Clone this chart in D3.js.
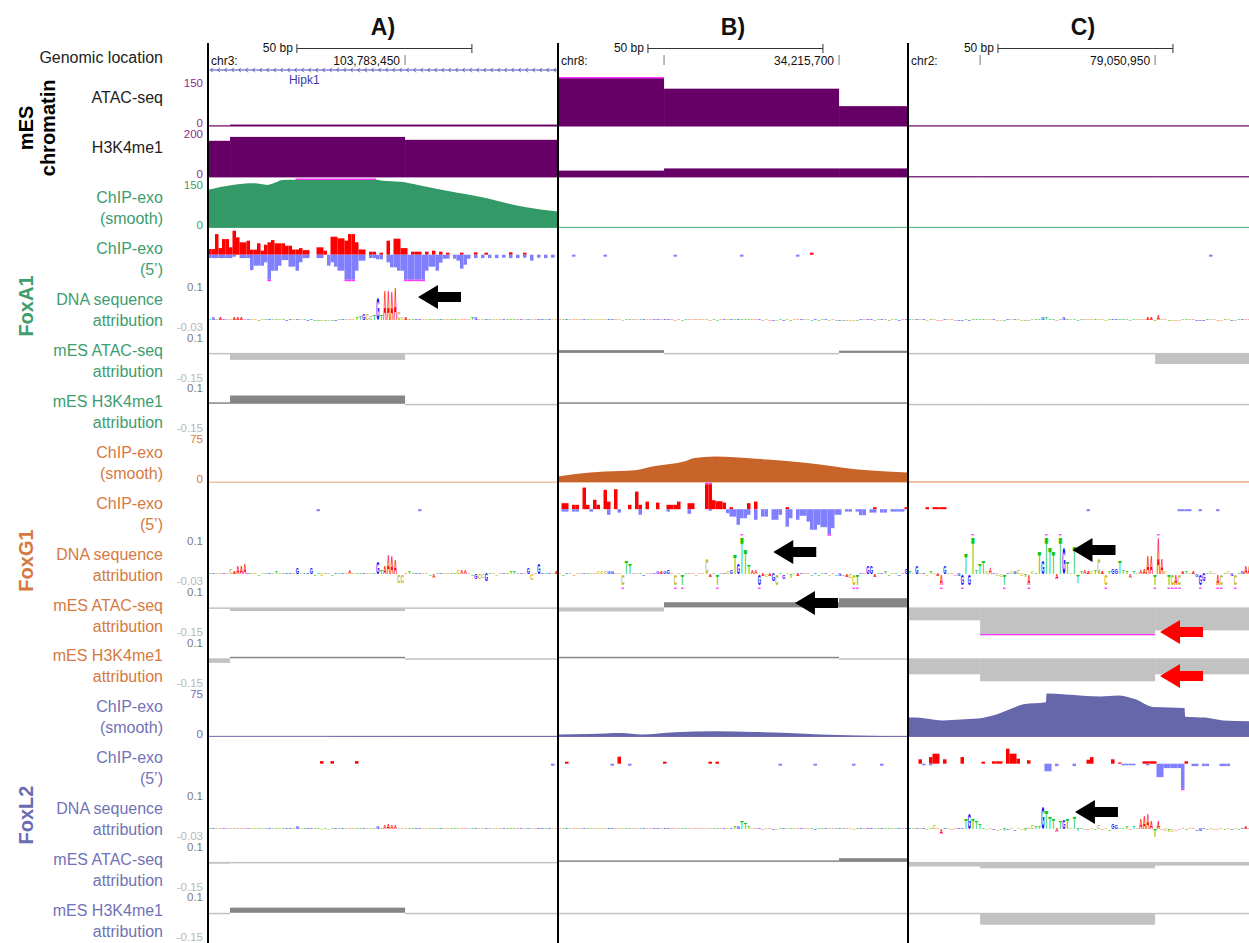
<!DOCTYPE html>
<html>
<head>
<meta charset="utf-8">
<title>Fox ChIP-exo and attribution tracks</title>
<script src="https://cdn.jsdelivr.net/npm/d3@7/dist/d3.min.js"></script>
<style>
  body { margin: 0; background: #fff; }
  svg { display: block; font-family: "Liberation Sans", Arial, Helvetica, sans-serif; }
</style>
</head>
<body>
<svg id="fig" width="1249" height="943"></svg>
<script>
/* global d3 */

// ---- loci shown in the three panels ----
const panelNames = ['A)', 'B)', 'C)'];
const chromNames = ['chr3:', 'chr8:', 'chr2:'];
const coordLabels = ['103,783,450', '34,215,700', '79,050,950'];
const binEdges = [[6.3, 56.3], [30.3, 80.3], [20.6, 70.6]]; // bp where the 50 bp bins change
const scaleBarStart = [25.4, 25.7, 25.7];
const scaleBarBp = 50;
const geneName = 'Hipk1';
const genePanel = 0;
const geneLabelBp = 27.5;

// ---- mES chromatin (per 50 bp bin) ----
const atacSeq = [[2, 6, 6], [165, 117, 63], [1, 2, 1]];
const h3k4me1 = [[151, 167, 155], [28, 37, 37], [1, 1, 1]];

// ---- DNA sequence of each panel ----
const dnaSeq = [
	'TGCAGACAAA' + 'AGCCTCTGCT' + 'CTGGCGCTGG' + 'TTCTCTGTGA' + 'ACTTGCCTGT' + 'AAAACCATTG' + 'GCCTATGCAT' + 'TCAACTGCCG' + 'TCCAGTTTAG' + 'CGCAGGTGCA',
	'ATGCACAGTC' + 'ACCCGGACCT' + 'TACTGCAGGA' + 'GGACATTACA' + 'ACCATTAGCG' + 'TGTTTAAGAC' + 'AGCTGCTCAG' + 'ACTGTTGCAT' + 'GTACCTGAGG' + 'ATGTTCTGAG',
	'TCGAGCTCAA' + 'GCAAGGTGTT' + 'TTCAGCCTGC' + 'GCCTACTTGT' + 'TTATGTCTTT' + 'AACTCACTGG' + 'TTTATCAAAA' + 'TAACTCACAT' + 'CAGGGTCAAC' + 'TCGCTGAACA'
];

// ---- ChIP-exo smooth signal, [bp, value] ----
const foxa1Smooth = [
	[[0, 119], [7, 134], [13, 139], [17, 134], [21.5, 149], [25, 156], [35, 160], [45, 156], [48, 151], [50, 147], [55, 144], [60, 134], [69, 114], [78, 96], [86, 75], [95, 57], [100, 51]],
	[[0, 1], [100, 1]],
	[[0, 1], [100, 1]]
];
const foxg1Smooth = [
	[[0, 0.5], [100, 0.5]],
	[[0, 9], [5, 13], [13.4, 17], [22, 19], [27.7, 25.5], [36.3, 33], [39, 38], [44.8, 40.5], [50.6, 39], [60, 35.5], [70.6, 30.5], [78, 25.5], [85, 20.5], [94, 17], [100, 15.5]],
	[[0, 1], [100, 1]]
];
const foxl2Smooth = [
	[[0, 0.3], [30, 0.3], [36, 1], [100, 1.2]],
	[[0, 3.5], [9, 4.5], [18, 6], [24, 3.5], [33.4, 7], [45, 8.5], [56, 7.5], [66, 6], [75, 3.5], [85, 2], [100, 1]],
	[[0, 30], [2, 30], [5, 28.5], [10, 25.5], [15, 27], [20, 28.5], [25, 34.5], [30, 45], [33, 51], [39.4, 54], [39.6, 67.5], [45, 66], [55, 63], [60, 64.5], [65, 58.5], [70, 46.5], [79, 45], [79.2, 31.5], [85, 30], [90, 25.5], [100, 24]]
];

// ---- ChIP-exo 5' counts, [bp, count] for + strand and - strand ----
const foxa1Plus = [
	[[0, 2.8], [1, 2.8], [2, 10.3], [3, 3.3], [4, 7.8], [5, 7.8], [6, 3.7], [7, 12], [8, 8.7], [9, 6.2], [10, 6.2], [11, 7], [12, 2.5], [13, 2.5], [14, 5.7], [15, 2], [16, 5], [17, 6.2], [18, 7.3], [19, 5.7], [20, 5.7], [21, 5.7], [22, 4.5], [23, 4.5], [24, 2.6], [25, 2.6], [26, 3.3], [27, 2.3], [28, 2.3], [31, 3.7], [32, 3.7], [33, 2], [35, 9], [36, 9], [37, 8.2], [38, 8.2], [39, 7], [40, 10.3], [41, 10.3], [42, 6.2], [43, 2.6], [44, 2.6], [46, 1.5], [47, 1.5], [49, 1], [51, 7], [53, 8], [54, 8], [55, 3.3], [56, 3.3], [58, 1.5], [59, 1.5], [60, 1.5], [62, 1.5], [64, 2], [66, 1.5], [68, 1], [72, 1], [76, 1.2], [79, 1], [86, 1.2], [90, 1]],
	[[72, 1]],
	[]
];
const foxa1Minus = [
	[[0, 1.7], [1, 1.7], [2, 1.7], [3, 1.7], [4, 1.7], [5, 1.7], [6, 1.7], [7, 1], [9, 1.7], [10, 1.7], [11, 1.7], [12, 7.7], [13, 5.5], [14, 5.5], [15, 5.5], [16, 3.8], [17, 13], [18, 8], [19, 8], [20, 5.5], [21, 2.7], [22, 2.7], [23, 6], [24, 6], [25, 8], [26, 3.8], [27, 1.7], [28, 1.7], [31, 1.7], [32, 1.7], [34, 5.5], [35, 3.8], [36, 6], [37, 8], [38, 8], [39, 13], [40, 13], [41, 13], [42, 8], [43, 3], [44, 3], [46, 1.7], [47, 1.7], [48, 2.3], [49, 2.3], [51, 3.8], [52, 6.3], [53, 6.3], [54, 8], [55, 8], [56, 13], [57, 13], [58, 13], [59, 13], [60, 13], [61, 13], [62, 8], [63, 6], [64, 6], [65, 8], [66, 4], [67, 2], [68, 2], [70, 2], [71, 3], [72, 7], [73, 5], [74, 2], [76, 1.7], [78, 1.7], [80, 1.7], [82, 1.7], [84, 1.5], [86, 1.7], [88, 1.7], [90, 1.5], [92, 3], [94, 1.5], [96, 1.7], [98, 1.5]],
	[[4, 1], [13, 1], [33, 1], [52, 1], [68, 1]],
	[[86, 1]]
];
const foxg1Plus = [
	[],
	[[1, 3], [2, 3], [4, 2.2], [5, 2.2], [7, 10.8], [8, 2.2], [10, 4.7], [11, 2.2], [13, 9.7], [14, 3.8], [16, 10], [20, 2.2], [22, 8.8], [23, 2.2], [25, 3.8], [28, 3.3], [31, 2.2], [32, 2.2], [33, 2.2], [34, 3.8], [37, 3], [38, 3], [42, 14], [43, 14], [44, 4.5], [45, 4], [46, 4], [47, 3.3], [49, 1], [54, 3], [56, 3.8], [65, 1], [90, 1], [99, 1]],
	[[5, 1], [7, 1], [8, 1], [9, 1], [10, 1]]
];
const foxg1Minus = [
	[[31, 1], [60, 1]],
	[[1, 1.2], [2, 1.2], [4, 1.2], [5, 1.2], [9, 1.2], [14, 2.8], [17, 1.7], [23, 2.8], [31, 1.2], [37, 2.3], [43, 0.8], [48, 2], [49, 3.7], [50, 3.7], [51, 7.8], [52, 4.5], [53, 4.5], [54, 2.8], [56, 5.3], [58, 3.7], [59, 3.7], [61, 5.3], [62, 5.3], [63, 2.8], [65, 8.7], [66, 4.5], [68, 5.3], [69, 3.3], [70, 3.3], [71, 6.2], [72, 10.3], [73, 10.3], [74, 7.8], [75, 9], [76, 9], [77, 14], [78, 9.5], [79, 2.8], [80, 2.8], [82, 1.2], [83, 1.2], [85, 1.2], [86, 3], [87, 3], [89, 1.7], [90, 1.7], [92, 1.7], [93, 1.7], [95, 1.2], [96, 1.2], [97, 1.2], [98, 1.2]],
	[[51, 1], [77, 1], [78, 1], [79, 1], [80, 1], [83, 1], [88, 1]]
];
const foxl2Plus = [
	[[32, 1.3], [35, 1.3], [42, 1.3]],
	[[2, 1], [17, 3.5], [30, 1], [43, 1], [45, 1]],
	[[3, 2.2], [6, 3.3], [7, 5], [8, 5], [10, 2.2], [15, 3.3], [21, 1], [24, 1.2], [25, 1.2], [26, 1.2], [28, 7.5], [29, 5], [30, 5], [31, 2.5], [34, 1.7], [51, 2], [52, 3.3], [58, 2.2], [60, 0.6], [67, 1.2], [68, 1.2], [69, 1.2], [70, 1.2], [79, 1.2]]
];
const foxl2Minus = [
	[[98, 1]],
	[[15, 1], [20, 1], [63, 1], [73, 1], [84, 1], [92, 1]],
	[[4, 0.8], [6, 0.8], [39, 3.8], [40, 3.8], [42, 1.2], [47, 1.2], [61, 0.8], [62, 0.8], [63, 0.8], [64, 0.8], [68, 0.8], [71, 6.7], [72, 6.7], [73, 2.2], [74, 2.2], [75, 2.2], [76, 2.2], [77, 2.2], [78, 14], [81, 1.2], [82, 1.2], [84, 1.2], [85, 1.2], [89, 1.2], [90, 1.2], [91, 1.2]]
];

// ---- DNA sequence attribution, one value per bp, in units of 0.001 ----
const foxa1Dna = [
	[3, 8, 4, 6, 5, 3, 5, 7, 6, 6, 5, 3, 2, 3, -2, 2, 3, 2, 4, 3, 2, 2, -2, 3, 2, 2, 3, 2, -2, 2, -2, -3, -2, -2, -3, -3, -2, 2, 3, 3,
		4, 5, 8, 10, 18, 16, 12, 14, 62, 15, 82, 85, 80, 92, 20, 8, 6, 4, 5, 3, 4, 3, 5, 2, 3, 3, 2, 3, 4, 2, 3, 5, 3, 2, 4, 6, 6, 3, 2, 2,
		3, 2, 2, 3, 2, 3, 2, 2, 3, 2, 2, 3, 2, 2, 2, 3, 2, 2, 3, 2],
	[2, 2, 1, 2, 3, 2, 1, 2, 2, 2, 2, 3, 3, 2, 2, 2, 1, 2, -2, 3, 3, 2, 2, 2, 1, 2, 2, 2, 2, 2, 2, 2, 2, -2, 2, -2, 2, 2, 2, 1,
		2, 2, 3, -1, 2, -2, 2, 2, 2, 3, 3, 2, 4, 3, 2, 2, 2, 2, -2, 2, -2, -2, -2, 2, -2, 2, -2, 2, 2, 2, 2, 2, -2, 2, -2, 2, 2, -2, 2, -2,
		-2, -2, -2, -2, -2, -2, 2, 2, 3, 3, -2, 2, 2, 2, -2, 2, 2, -2, 2, 2],
	[2, 2, 3, 2, 2, -2, 2, 2, -2, -3, 3, 2, 2, -2, -2, -3, 4, -2, 5, 2, 3, 3, 2, 3, 2, -2, -2, -3, 2, 2, 2, 3, -2, -2, -3, 2, 3, 4, 8, 6,
		5, 4, -2, 5, 6, 3, 2, 4, -2, 2, 2, 2, 2, 2, 3, 2, -3, 2, 3, 3, 3, 3, 2, -2, 2, 2, 4, 5, 6, 6, -3, 14, 5, 2, -3, -3, -2, -2, 2, 2,
		2, 2, -2, -3, -2, 2, 2, 2, -3, -3, 2, 2, -2, -3, 2, 2, 4, 4, 2, 2]
];
const foxg1Dna = [
	[2, 3, 2, 3, 2, 4, 14, 6, 20, 22, 29, 4, 3, 2, -2, 2, 3, 4, 5, 6, 4, 5, 3, 3, 2, 17, 3, 4, 5, 17, -4, 3, -6, 4, 3, -3, 4, 3, 2, 3,
		11, 5, 3, 2, 4, 3, 2, 3, 34, 11, 20, 54, 49, 40, -23, -23, 4, 8, 3, 2, 3, 2, 3, -4, -11, 2, 3, 4, 3, 2, 4, 11, 11, 10, 3, -5, -14, -14, -10, -20,
		3, 2, -4, 3, 2, 3, 6, 6, 5, 3, 2, 17, -17, 3, 28, 5, 3, 2, 4, 8],
	[5, -3, 4, 3, -2, 3, 5, 4, 3, 4, 3, 6, 7, 8, 6, 6, 3, 3, -45, 35, 30, 3, 4, 4, -3, 3, 2, 4, 8, 6, 8, 9, 5, -40, 4, -38, 4, 3, 5, -3,
		4, 5, 42, -8, 4, -40, 5, 3, 6, 10, 55, 30, 110, 70, 25, 10, 12, -35, -6, -8, -6, -20, -30, 5, -12, 4, -10, 3, -6, 4, 3, 4, -5, 3, -4, 3, 4, -5, 3, -4,
		-6, -3, -8, -10, -45, -40, 4, 5, 20, 22, -8, 4, 3, 6, -4, 3, 4, -3, 5, 14],
	[6, 4, 23, 5, 4, -5, 6, 4, -6, -40, 23, 5, 4, -5, -6, -40, 57, -29, 120, 10, 29, 37, 6, 17, 5, -6, -8, -40, 5, 6, 8, 10, -6, -8, -40, 6, 5, 63, 37, 120,
		71, 63, -14, 120, 71, 34, 5, 77, -23, 6, 10, 8, 6, 12, 43, 6, -40, 8, 14, 14, 37, 12, 6, -10, 6, 5, 12, 14, 49, 49, -40, 120, 43, 8, -40, -40, -40, -40, 6, 8,
		5, 6, -8, -40, -20, 5, 6, 5, -40, -40, 5, 6, -6, -40, 5, 6, 20, 20, 5, 6]
];
const foxl2Dna = [
	[2, 1, 2, 1, 2, 2, 3, 3, 2, 2, 2, 2, 1, 2, 2, 1, 2, 2, 2, 2, 2, 2, 1, 2, 2, 6, 2, 2, 2, 5, 2, 2, -2, 2, -3, 5, 4, 2, 2, 2,
		3, 2, 1, 2, 2, 2, 2, 3, 8, 3, 12, 14, 12, 9, 3, 2, 2, 2, 1, 2, 2, 2, 2, 2, 1, 2, 2, 2, 2, 2, 2, 2, 2, 2, 1, 2, 2, 2, 2, 2,
		2, 2, 2, 2, 1, 2, 2, 2, 2, 2, 1, 2, 2, 1, 2, 2, 1, 2, 2, 2],
	[2, 1, 2, 1, 2, 2, 1, 2, 2, 2, 2, 2, 2, 2, 2, 1, 2, 2, 2, 2, 2, 1, 2, 2, 2, 2, 2, 2, 1, 2, 2, 2, 2, 2, 2, 2, 2, 2, 2, 2,
		2, 2, 3, 2, 2, 2, 2, 2, 3, 4, 8, 6, 22, 18, 8, 3, 2, 2, -2, 2, 2, -2, -2, 2, 2, 2, 2, 2, 2, 2, 2, 2, 2, -2, 2, 2, 2, 2, 2, 2,
		2, 2, 2, 2, -2, 2, 2, 2, 3, 3, 2, 2, 2, 2, 2, 2, 2, 2, 2, 2],
	[3, 2, 4, 3, 2, -2, 3, 11, 3, -14, 4, 3, -3, 2, 3, 5, 29, 43, 29, 22, 14, 4, -4, 3, -4, -5, -3, -6, -4, 3, -5, 3, -4, -6, 3, 11, 8, 6, 63, 49,
		34, 29, -10, 23, 26, 27, 4, 31, -6, 3, -3, -4, 3, -3, 11, -4, 3, -5, 14, 10, 4, 3, 8, -4, 6, 3, 30, 37, 43, 20, -23, 23, -4, -6, -8, -8, -5, -4, 3, -4,
		3, 4, -5, -6, 3, -3, 4, -4, -3, 3, -3, 3, -2, 3, -3, 4, 6, 3, 2, 3]
];

// ---- mES ATAC-seq / H3K4me1 attribution (per 50 bp bin) ----
const foxa1AtacAttr = [[-0.002, -0.038, -0.002], [0.015, -0.001, 0.012], [-0.003, -0.003, -0.06]];
const foxa1H3Attr = [[0.002, 0.045, -0.003], [0.002, 0.002, 0.002], [-0.004, -0.004, -0.004]];
const foxg1AtacAttr = [[-0.005, -0.02, -0.005], [-0.022, 0.028, 0.05], [-0.07, -0.17, -0.125]];
const foxg1H3Attr = [[-0.025, 0.008, -0.003], [0.003, 0.003, -0.002], [-0.087, -0.125, -0.087]];
const foxl2AtacAttr = [[-0.01, -0.002, -0.002], [0.003, 0.005, 0.02], [-0.025, -0.035, -0.02]];
const foxl2H3Attr = [[-0.002, 0.028, -0.002], [-0.002, -0.002, -0.002], [-0.005, -0.065, -0.005]];

// ---- arrows pointing at motifs: panel, track row, tip bp ----
const arrows = [
	{panel: 0, track: 4, bp: 60, dy: 16.5, color: '#000'},
	{panel: 1, track: 9, bp: 61.5, dy: 17, color: '#000'},
	{panel: 1, track: 10, bp: 67.7, dy: 17, color: '#000'},
	{panel: 2, track: 9, bp: 47, dy: 15, color: '#000'},
	{panel: 2, track: 14, bp: 47.7, dy: 22.5, color: '#000'},
	{panel: 2, track: 10, bp: 72, dy: 46, color: '#ff0000'},
	{panel: 2, track: 11, bp: 72, dy: 39, color: '#ff0000'}
];

// ---------------- layout / styles ----------------
const W = 1249, H = 943;
const PANEL_X = [208, 558, 908], PANEL_W = 350, BP = 100;
const TRACK_TOP = 77, TRACK_H = 50.9;
const MAGENTA = '#ff33ff';
const CHROM_FILL = '#660066', CHROM_TEXT = '#8e2c8e';
const LETTER_COLOR = {A: '#ff0000', C: '#c4b000', G: '#0000ff', T: '#10c810'};
const LETTER_W = {A: 0.722, C: 0.722, G: 0.778, T: 0.611};
const CAP = 0.71;

const tfs = [
	{name: 'FoxA1', fill: '#339966', text: '#3d9d6f', base: '#74c098', max: 150, smooth: foxa1Smooth, plus: foxa1Plus, minus: foxa1Minus, dna: foxa1Dna, atac: foxa1AtacAttr, h3: foxa1H3Attr},
	{name: 'FoxG1', fill: '#c8642a', text: '#d6793f', base: '#f2cdb4', max: 75, smooth: foxg1Smooth, plus: foxg1Plus, minus: foxg1Minus, dna: foxg1Dna, atac: foxg1AtacAttr, h3: foxg1H3Attr},
	{name: 'FoxL2', fill: '#6666aa', text: '#7272b6', base: '#8a8ac4', max: 75, smooth: foxl2Smooth, plus: foxl2Plus, minus: foxl2Minus, dna: foxl2Dna, atac: foxl2AtacAttr, h3: foxl2H3Attr}
];

const tracks = [
	{type: 'bins', vals: atacSeq, max: 150, label: ['ATAC-seq'], labelColor: '#222', ticks: ['150', '0'], tickColors: [CHROM_TEXT, CHROM_TEXT]},
	{type: 'bins', vals: h3k4me1, max: 200, label: ['H3K4me1'], labelColor: '#222', ticks: ['200', '0'], tickColors: [CHROM_TEXT, CHROM_TEXT]}
];
tfs.forEach(function (tf) {
	tracks.push({type: 'smooth', tf: tf, label: ['ChIP-exo', '(smooth)'], labelColor: tf.text, ticks: [String(tf.max), '0'], tickColors: [tf.text, tf.text]});
	tracks.push({type: 'five', tf: tf, label: ['ChIP-exo', '(5\u2019)'], labelColor: tf.text});
	tracks.push({type: 'logo', tf: tf, label: ['DNA sequence', 'attribution'], labelColor: tf.text, ticks: ['0.1', '-0.03'], tickColors: ['#7d7d7d', '#b8b8b8']});
	tracks.push({type: 'attr', vals: tf.atac, label: ['mES ATAC-seq', 'attribution'], labelColor: tf.text, ticks: ['0.1', '-0.15'], tickColors: ['#7d7d7d', '#b8b8b8']});
	tracks.push({type: 'attr', vals: tf.h3, label: ['mES H3K4me1', 'attribution'], labelColor: tf.text, ticks: ['0.1', '-0.15'], tickColors: ['#7d7d7d', '#b8b8b8']});
});

const groups = [
	{lines: ['mES', 'chromatin'], color: '#000', first: 0, last: 1},
	{lines: ['FoxA1'], color: '#3d9d6f', first: 2, last: 6},
	{lines: ['FoxG1'], color: '#d6793f', first: 7, last: 11},
	{lines: ['FoxL2'], color: '#6b6bb3', first: 12, last: 16}
];

const svg = d3.select('#fig');
const xs = PANEL_X.map(px => d3.scaleLinear().domain([0, BP]).range([px, px + PANEL_W]));
const trackTop = i => TRACK_TOP + i * TRACK_H;

const defs = svg.append('defs');
const panelG = PANEL_X.map(function (px, p) {
	defs.append('clipPath').attr('id', 'clip' + p)
		.append('rect').attr('x', px).attr('y', 0).attr('width', PANEL_W).attr('height', H);
	return svg.append('g').attr('clip-path', 'url(#clip' + p + ')');
});

function binBounds (p) {
	return [0].concat(binEdges[p], [BP]);
}

function drawBins (g, x, t, vals, bounds, max) {
	const y = d3.scaleLinear().domain([0, max]).range([t + 49.5, t + 1]);
	vals.forEach(function (v, k) {
		const top = Math.min(y(Math.min(v, max)), y(0) - 1.2);
		g.append('rect').attr('x', x(bounds[k])).attr('width', x(bounds[k + 1]) - x(bounds[k]))
			.attr('y', top).attr('height', y(0) - top).attr('fill', CHROM_FILL);
		if (v > max) {
			g.append('rect').attr('x', x(bounds[k])).attr('width', x(bounds[k + 1]) - x(bounds[k]))
				.attr('y', top - 1).attr('height', 1.5).attr('fill', MAGENTA);
		}
	});
}

function drawSmooth (g, x, t, pts, tf) {
	const y = d3.scaleLinear().domain([0, tf.max]).range([t + 49, t + 1]);
	g.append('rect').attr('x', x(0)).attr('width', x(BP) - x(0))
		.attr('y', y(0) - 1).attr('height', 1.2).attr('fill', tf.base);
	const area = d3.area().curve(d3.curveMonotoneX)
		.x(d => x(d[0])).y0(y(0)).y1(d => y(Math.min(d[1], tf.max)));
	g.append('path').datum(pts).attr('d', area).attr('fill', tf.fill);
	const over = d3.line().defined(d => d[1] >= tf.max).x(d => x(d[0])).y(y(tf.max) - 0.5);
	g.append('path').datum(pts).attr('d', over).attr('fill', 'none')
		.attr('stroke', MAGENTA).attr('stroke-width', 1.5);
}

function drawFive (g, x, t, plus, minus) {
	const cap = 12.5;
	const y = d3.scaleLinear().domain([-cap, cap]).range([t + 50, t]);
	const w = x(1) - x(0);
	plus.forEach(function (d) {
		const top = Math.min(y(Math.min(d[1], cap)), y(0) - 1.2);
		g.append('rect').attr('x', x(d[0])).attr('width', w).attr('y', top)
			.attr('height', y(0) - top).attr('fill', '#ff0000');
		if (d[1] > cap) {
			g.append('rect').attr('x', x(d[0])).attr('width', w).attr('y', top - 1.5)
				.attr('height', 1.5).attr('fill', MAGENTA);
		}
	});
	minus.forEach(function (d) {
		const bot = Math.max(y(-Math.min(d[1], cap)), y(0) + 1.2);
		g.append('rect').attr('x', x(d[0])).attr('width', w).attr('y', y(0))
			.attr('height', bot - y(0)).attr('fill', '#8080ff');
		if (d[1] > cap) {
			g.append('rect').attr('x', x(d[0])).attr('width', w).attr('y', bot)
				.attr('height', 1.5).attr('fill', MAGENTA);
		}
	});
}

function drawLogo (g, x, t, seq, vals) {
	const y = d3.scaleLinear().domain([-0.03, 0.1]).range([t + 50, t + 3]);
	const y0 = y(0);
	const w = x(1) - x(0);
	vals.forEach(function (m, i) {
		const v = m / 1000;
		const c = seq[i];
		const vc = Math.max(-0.03, Math.min(0.1, v));
		const h = Math.max(1.4, Math.abs(y(vc) - y0));
		const yb = v >= 0 ? y0 : y0 + h;
		const sx = w * 0.92 / (LETTER_W[c] * 10);
		const sy = h / (CAP * 10);
		g.append('text')
			.attr('transform', 'translate(' + x(i + 0.5) + ',' + yb + ') scale(' + sx + ',' + sy + ')')
			.attr('text-anchor', 'middle').attr('font-size', 10).attr('font-weight', 'bold')
			.attr('fill', LETTER_COLOR[c]).text(c);
		if (v > 0.1) {
			g.append('rect').attr('x', x(i) + 0.4).attr('width', w - 0.8).attr('y', y(0.1) - 4)
				.attr('height', 1.3).attr('fill', MAGENTA);
		} else if (v < -0.03) {
			g.append('rect').attr('x', x(i) + 0.4).attr('width', w - 0.8).attr('y', y(-0.03) + 2.5)
				.attr('height', 1.3).attr('fill', MAGENTA);
		}
	});
}

function drawAttr (g, x, t, vals, bounds) {
	const y = d3.scaleLinear().domain([-0.15, 0.1]).range([t + 49, t + 3]);
	const y0 = y(0);
	vals.forEach(function (v, k) {
		const vc = Math.max(-0.15, Math.min(0.1, v));
		let y1 = y(vc);
		if (Math.abs(y1 - y0) < 1.5) y1 = v >= 0 ? y0 - 1.5 : y0 + 1.5;
		g.append('rect').attr('x', x(bounds[k])).attr('width', x(bounds[k + 1]) - x(bounds[k]))
			.attr('y', Math.min(y0, y1)).attr('height', Math.abs(y1 - y0))
			.attr('fill', v >= 0 ? '#858585' : '#c2c2c2');
		if (v < -0.15) {
			g.append('rect').attr('x', x(bounds[k])).attr('width', x(bounds[k + 1]) - x(bounds[k]))
				.attr('y', y1 - 1).attr('height', 1.3).attr('fill', MAGENTA);
		}
	});
}

// ---------------- tracks ----------------
tracks.forEach(function (tr, i) {
	const t = trackTop(i);
	// label on the left
	const lineY = tr.label.length === 1 ? [t + 20] : [t + 19, t + 40];
	tr.label.forEach(function (s, k) {
		svg.append('text').attr('x', 163).attr('y', lineY[k]).attr('text-anchor', 'end')
			.attr('dominant-baseline', 'central').attr('font-size', 16).attr('fill', tr.labelColor).text(s);
	});
	// data range labels
	if (tr.ticks) {
		[t + 6, t + 46].forEach(function (yy, k) {
			svg.append('text').attr('x', 203).attr('y', yy).attr('text-anchor', 'end')
				.attr('dominant-baseline', 'central').attr('font-size', 11.5)
				.attr('fill', tr.tickColors[k]).text(tr.ticks[k]);
		});
	}
	panelG.forEach(function (g, p) {
		const x = xs[p];
		if (tr.type === 'bins') drawBins(g, x, t, tr.vals[p], binBounds(p), tr.max);
		else if (tr.type === 'smooth') drawSmooth(g, x, t, tr.tf.smooth[p], tr.tf);
		else if (tr.type === 'five') drawFive(g, x, t, tr.tf.plus[p], tr.tf.minus[p]);
		else if (tr.type === 'logo') drawLogo(g, x, t, dnaSeq[p], tr.tf.dna[p]);
		else if (tr.type === 'attr') drawAttr(g, x, t, tr.vals[p], binBounds(p));
	});
});

// ---------------- genomic location row ----------------
svg.append('text').attr('x', 163).attr('y', 57).attr('text-anchor', 'end')
	.attr('dominant-baseline', 'central').attr('font-size', 16).attr('fill', '#222').text('Genomic location');

panelNames.forEach(function (name, p) {
	const x = xs[p];
	svg.append('text').attr('x', x(50)).attr('y', 35).attr('text-anchor', 'middle')
		.attr('font-size', 23).attr('font-weight', 'bold').attr('fill', '#111').text(name);
	// scale bar
	const x0 = x(scaleBarStart[p]), x1 = x(scaleBarStart[p] + scaleBarBp);
	const sb = svg.append('g').attr('stroke', '#333').attr('stroke-width', 1);
	sb.append('line').attr('x1', x0).attr('x2', x1).attr('y1', 48.5).attr('y2', 48.5);
	sb.append('line').attr('x1', x0).attr('x2', x0).attr('y1', 44).attr('y2', 53);
	sb.append('line').attr('x1', x1).attr('x2', x1).attr('y1', 44).attr('y2', 53);
	svg.append('text').attr('x', x0 - 4).attr('y', 52).attr('text-anchor', 'end')
		.attr('font-size', 12).attr('fill', '#111').text(scaleBarBp + ' bp');
	// chromosome and coordinate ticks
	svg.append('text').attr('x', x(0) + 3).attr('y', 65).attr('font-size', 12).attr('fill', '#111').text(chromNames[p]);
	binEdges[p].forEach(function (e, k) {
		if (x(e) - x(0) < 40) return;
		svg.append('line').attr('x1', x(e)).attr('x2', x(e)).attr('y1', 55).attr('y2', 65)
			.attr('stroke', '#777').attr('stroke-width', 1);
		if (k === 1) {
			svg.append('text').attr('x', x(e) - 5).attr('y', 65).attr('text-anchor', 'end')
				.attr('font-size', 12).attr('fill', '#111').text(coordLabels[p]);
		}
	});
});

// gene model (minus strand)
(function () {
	const x = xs[genePanel];
	const g = svg.append('g').attr('stroke', '#4a4ab8').attr('fill', 'none');
	g.append('line').attr('x1', x(0.5)).attr('x2', x(BP) - 1).attr('y1', 70).attr('y2', 70).attr('stroke-width', 1);
	d3.range(0.8, BP - 0.5, 2).forEach(function (b) {
		const cx = x(b);
		g.append('path').attr('d', 'M' + (cx + 2) + ',67.8L' + cx + ',70L' + (cx + 2) + ',72.2').attr('stroke-width', 0.9);
	});
	svg.append('text').attr('x', x(geneLabelBp)).attr('y', 84).attr('text-anchor', 'middle')
		.attr('font-size', 12).attr('fill', '#3a3aa8').text(geneName);
})();

// ---------------- group labels ----------------
groups.forEach(function (gr) {
	const cy = (trackTop(gr.first) + trackTop(gr.last) + TRACK_H) / 2;
	const bx = gr.lines.length === 1 ? [33] : [33, 55];
	gr.lines.forEach(function (s, k) {
		svg.append('text').attr('transform', 'translate(' + bx[k] + ',' + cy + ') rotate(-90)')
			.attr('text-anchor', 'middle').attr('font-size', 20).attr('font-weight', 'bold')
			.attr('fill', gr.color).text(s);
	});
});

// ---------------- panel separators ----------------
PANEL_X.forEach(function (px) {
	svg.append('line').attr('x1', px).attr('x2', px).attr('y1', 43).attr('y2', H)
		.attr('stroke', '#000').attr('stroke-width', 2);
});

// ---------------- arrows ----------------
arrows.forEach(function (a) {
	const xt = xs[a.panel](a.bp), yc = trackTop(a.track) + a.dy;
	const L = 43, hl = 20, hh = 12, st = 5;
	const pts = [[xt, yc], [xt + hl, yc - hh], [xt + hl, yc - st], [xt + L, yc - st],
		[xt + L, yc + st], [xt + hl, yc + st], [xt + hl, yc + hh]];
	svg.append('path').attr('d', 'M' + pts.join('L') + 'Z').attr('fill', a.color);
});
</script>
</body>
</html>
